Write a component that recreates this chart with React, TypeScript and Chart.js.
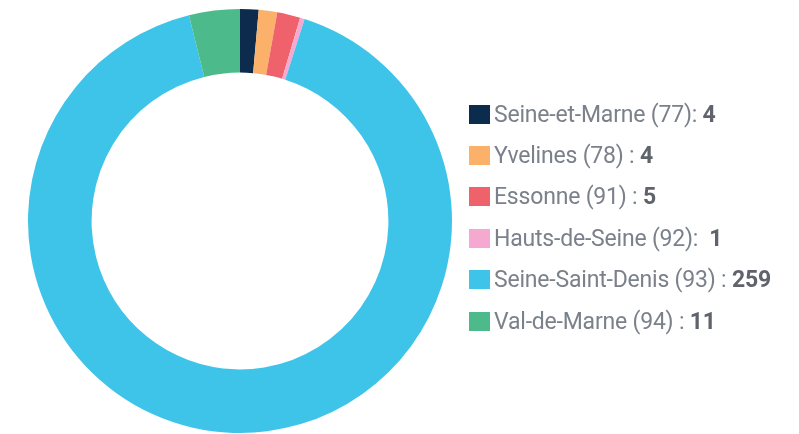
import React, { useEffect, useRef } from "react";
import { Chart, registerables } from "chart.js";

Chart.register(...registerables);

const labels = [
  "Seine-et-Marne (77)",
  "Yvelines (78)",
  "Essonne (91)",
  "Hauts-de-Seine (92)",
  "Seine-Saint-Denis (93)",
  "Val-de-Marne (94)",
];
const separators = [": ", " : ", " : ", ":  ", " : ", " : "];
const values = [4, 4, 5, 1, 259, 11];
const colors = ["#0c2b4d", "#fbb169", "#f0626b", "#f5a9d0", "#3ec4e8", "#4cba8a"];

export default function App() {
  const ref = useRef<HTMLCanvasElement | null>(null);
  useEffect(() => {
    if (!ref.current) return;
    const chart = new Chart(ref.current, {
      type: "doughnut",
      data: {
        labels,
        datasets: [
          {
            data: values,
            backgroundColor: colors,
            borderWidth: 0,
            hoverOffset: 0,
          },
        ],
      },
      options: {
        responsive: false,
        animation: false,
        cutout: "70%",
        layout: { padding: 0 },
        plugins: {
          legend: { display: false },
          tooltip: { enabled: false },
        },
      },
    });
    return () => chart.destroy();
  }, []);

  return (
    <div
      style={{
        position: "fixed",
        left: 0,
        top: 0,
        width: 799,
        height: 434,
        background: "#fff",
        overflow: "hidden",
      }}
    >
      <canvas
        ref={ref}
        width={480}
        height={424}
        style={{ position: "absolute", left: 0, top: 9, width: 480, height: 424 }}
      />
      {labels.map((l, i) => (
        <div
          key={l}
          style={{
            position: "absolute",
            left: 469,
            top: 114 + i * 41.4 - 15,
            height: 30,
            display: "flex",
            alignItems: "center",
            fontFamily: "Roboto, sans-serif",
            fontSize: 23,
            letterSpacing: -0.2,
            color: "#7b818b",
            whiteSpace: "pre",
          }}
        >
          <span
            style={{
              display: "inline-block",
              width: 21,
              height: 19,
              background: colors[i],
              marginRight: 4,
            }}
          />
          <span>{l + separators[i]}</span>
          <span style={{ fontWeight: 700, color: "#5f646c" }}>{values[i]}</span>
        </div>
      ))}
    </div>
  );
}
